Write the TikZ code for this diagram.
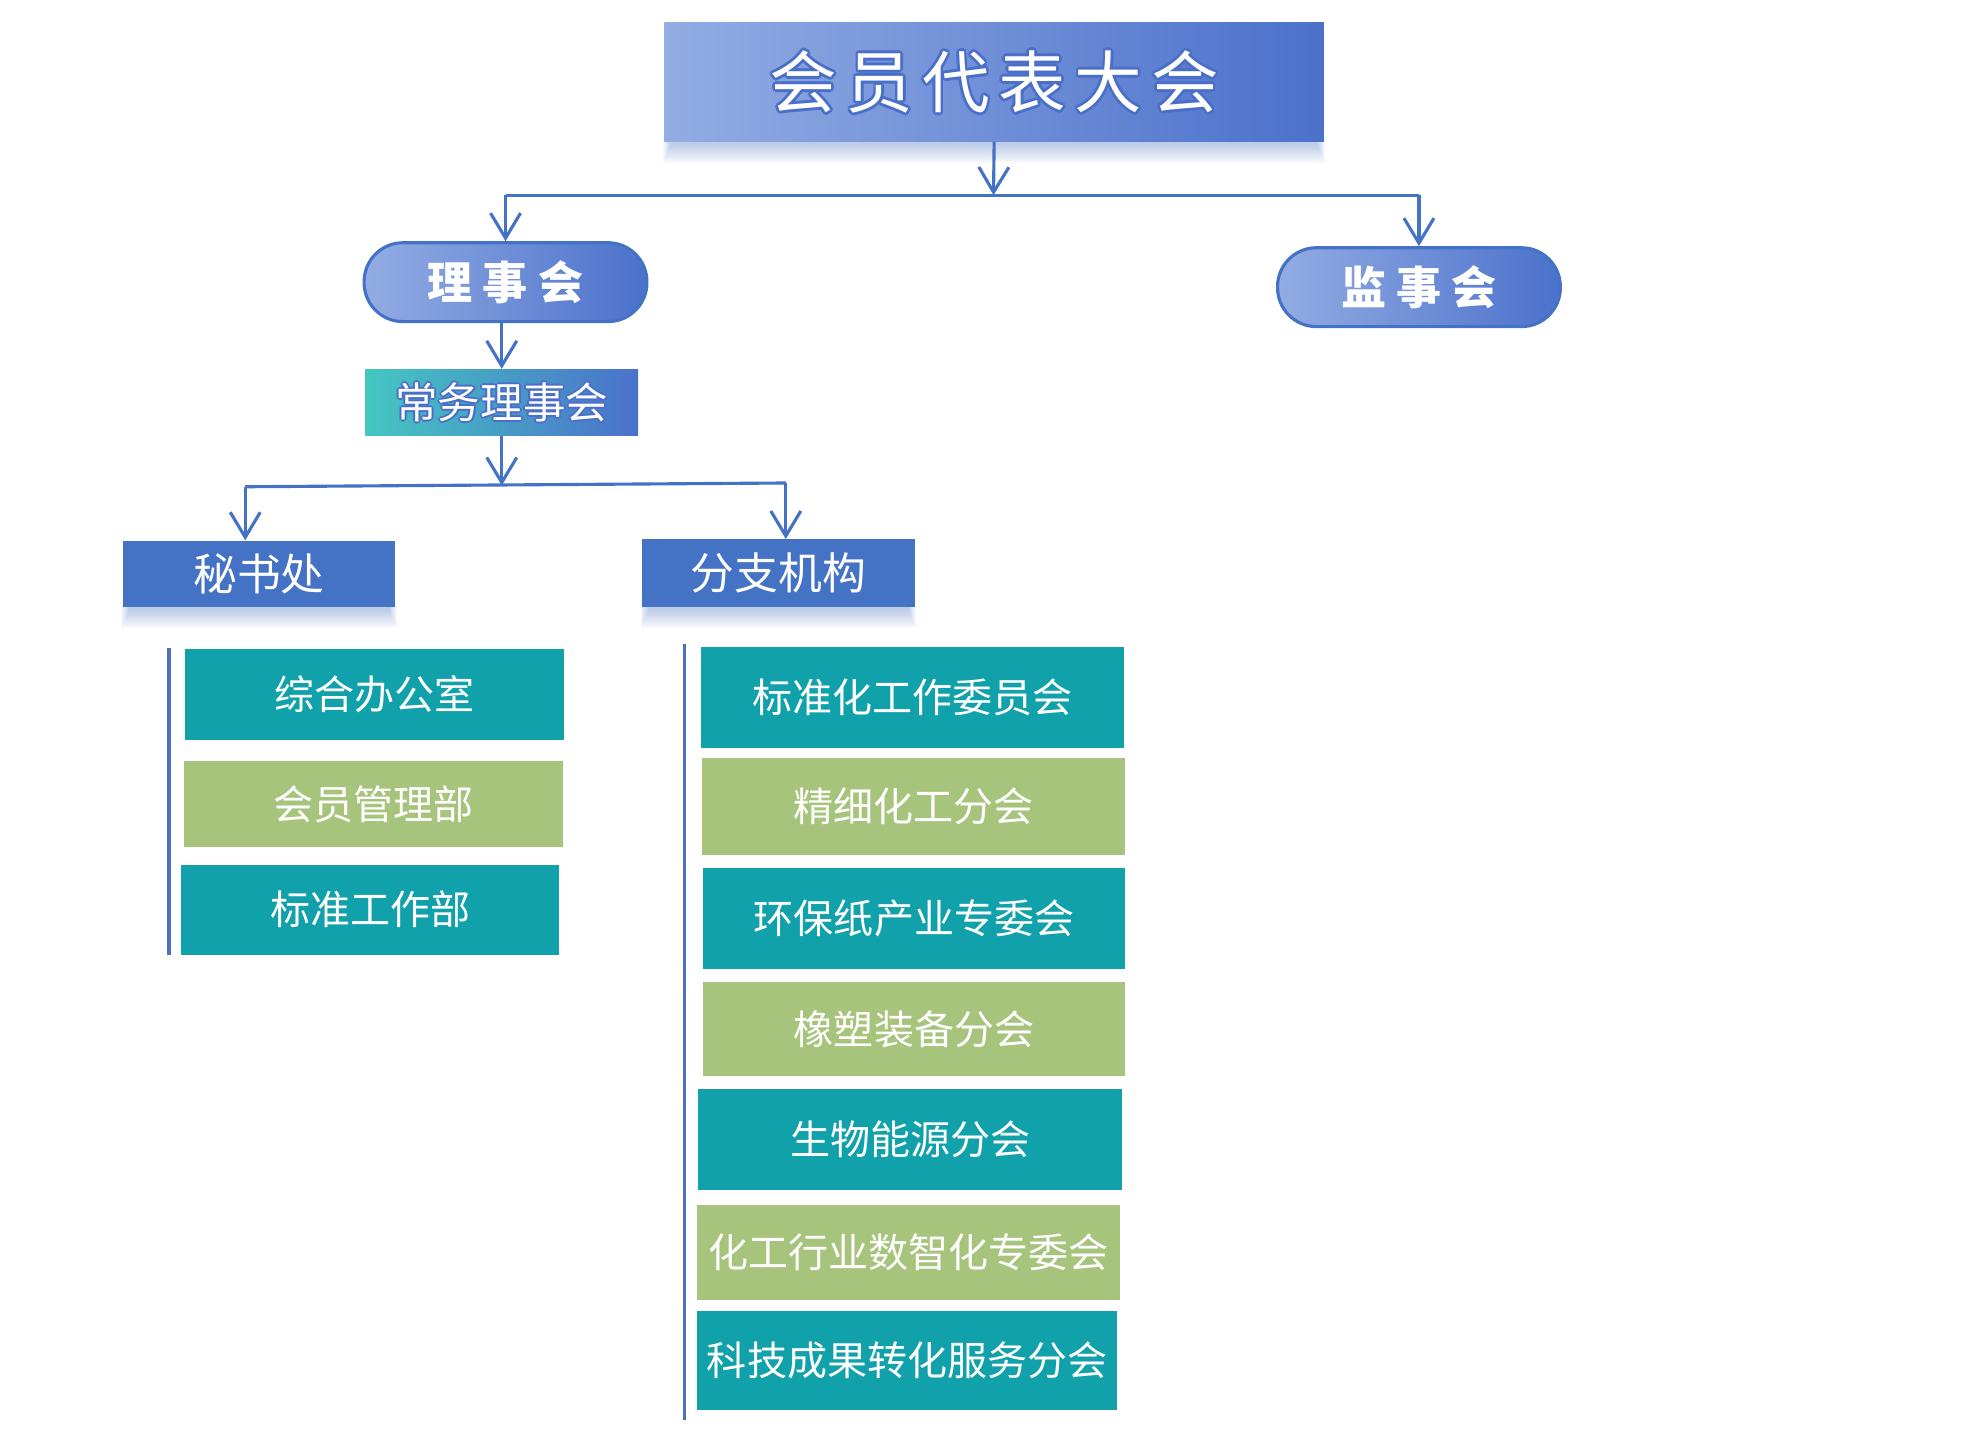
\documentclass[tikz,border=0pt]{standalone}
\usepackage{fontspec}
\newfontfamily\cjk{Noto Sans CJK SC}
\usetikzlibrary{arrows.meta}
\definecolor{lnblue}{HTML}{4472C4}
\definecolor{boxteal}{HTML}{10A1AA}
\definecolor{boxgreen}{HTML}{A6C47C}
\definecolor{gradlight}{HTML}{93ACE3}
\definecolor{graddark}{HTML}{4B71CB}
\definecolor{gradteal}{HTML}{44C7C1}
\definecolor{sideblue}{HTML}{4D6FC2}
\definecolor{outblue}{HTML}{4A6FC8}
% white text with a coloured outline
\newdimen\oltA \newdimen\oltB
\newcommand\olt[3]{\leavevmode\oltA=#3\relax\oltB=\dimexpr #3*7/10\relax
  \rlap{\kern-\oltA\color{#1}#2}\rlap{\kern\oltA\color{#1}#2}%
  \rlap{\raisebox{\oltA}{\color{#1}#2}}\rlap{\raisebox{-\oltA}{\color{#1}#2}}%
  \rlap{\kern-\oltB\raisebox{\oltB}{\color{#1}#2}}\rlap{\kern\oltB\raisebox{\oltB}{\color{#1}#2}}%
  \rlap{\kern-\oltB\raisebox{-\oltB}{\color{#1}#2}}\rlap{\kern\oltB\raisebox{-\oltB}{\color{#1}#2}}%
  {\color{white}#2}}
\newcommand\mkglow[4]{\foreach \i in {1,...,10}{\fill[lnblue,opacity=0.04] (#1+6-\i*0.7,#4-3) rectangle (#3-6+\i*0.7,#4+1+\i*1.6);}}
\begin{document}
\begin{tikzpicture}[x=1pt,y=-1pt,
  conn/.style={draw=lnblue, line width=2.5pt},
  arr/.style={conn, -{Straight Barb[length=20pt,width=24pt]}},
  side/.style={draw=sideblue, line width=3pt},
  unit/.style={rectangle, inner sep=0pt, text=white, font=\cjk\fontsize{32}{36}\selectfont},
  tealbox/.style={unit, fill=boxteal},
  greenbox/.style={unit, fill=boxgreen},
  bluebox/.style={unit, fill=lnblue, font=\cjk\fontsize{35}{40}\selectfont},
  titlebox/.style={rectangle, inner sep=0pt, left color=gradlight, right color=graddark,
     font=\cjk\fontsize{54}{60}\selectfont},
  pillbox/.style={rectangle, rounded corners=31pt, inner sep=0pt, draw=lnblue, line width=2.5pt,
     left color=gradlight, right color=graddark, text=white,
     font=\cjk\bfseries\fontsize{36}{40}\selectfont, minimum width=226pt, minimum height=63pt},
  cwbox/.style={rectangle, inner sep=0pt, left color=gradteal, right color=graddark,
     font=\cjk\fontsize{34}{40}\selectfont}
]
\useasboundingbox (0,0) rectangle (1568,1151);
\fill[white] (0,0) rectangle (1568,1151);

% shadows
\mkglow{531}{18}{1058}{113}
\mkglow{98}{432}{316}{485}
\mkglow{513}{431}{731}{485}

% top levels
\node[titlebox, minimum width=527pt, minimum height=95pt] (T) at (794.5,65.5)
  {\olt{outblue}{会\hspace{7pt}员\hspace{7pt}代\hspace{7pt}表\hspace{7pt}大\hspace{7pt}会}{2.2pt}};
\node[pillbox] (LSH) at (404,225.5) {理\hspace{8pt}事\hspace{8pt}会};
\node[pillbox] (JSH) at (1134,229.5) {监\hspace{8pt}事\hspace{8pt}会};
\node[cwbox, minimum width=218pt, minimum height=53pt] (CW) at (401,321.5)
  {\olt{outblue}{常务理事会}{1.6pt}};
\node[bluebox, minimum width=218pt, minimum height=53pt] (MSC) at (207,458.5) {秘书处};
\node[bluebox, minimum width=218pt, minimum height=54pt] (FZ) at (622,458) {分支机构};

% connectors
\coordinate (j1) at (794,156);
\coordinate (j1L) at (404,156);
\coordinate (j1R) at (1134,156);
\draw[arr] (T.south) -- (j1);
\draw[conn] (j1L) -- (j1R);
\draw[arr] (j1L) -- (LSH.north);
\draw[arr] (j1R) -- (JSH.north);
\draw[arr] (CW.north |- LSH.south) -- (CW.north);
\coordinate (j2) at (401,388);
\coordinate (j2L) at (196,389);
\coordinate (j2R) at (628,386);
\draw[arr] (CW.south) -- (j2);
\draw[conn] (j2L) -- (j2R);
\draw[arr] (j2L) -- (j2L |- MSC.north);
\draw[arr] (j2R) -- (j2R |- FZ.north);

% secretariat units
\coordinate (sL1) at (135,518);
\coordinate (sL2) at (135,763);
\draw[side] (sL1) -- (sL2);
\node[tealbox, minimum width=303pt, minimum height=72pt] (m1) at (299.5,555) {综合办公室};
\node[greenbox, minimum width=303pt, minimum height=69pt] (m2) at (298.5,642.5) {会员管理部};
\node[tealbox, minimum width=302pt, minimum height=72pt] (m3) at (296,727) {标准工作部};

% branch units
\coordinate (sR1) at (547,515);
\coordinate (sR2) at (547,1135);
\draw[side] (sR1) -- (sR2);
\node[tealbox, minimum width=338pt, minimum height=81pt] (r1) at (729,557.5) {标准化工作委员会};
\node[greenbox, minimum width=338pt, minimum height=77pt] (r2) at (730,644.5) {精细化工分会};
\node[tealbox, minimum width=337pt, minimum height=80pt] (r3) at (730.5,734) {环保纸产业专委会};
\node[greenbox, minimum width=337pt, minimum height=75pt] (r4) at (730.5,822.5) {橡塑装备分会};
\node[tealbox, minimum width=339pt, minimum height=81pt] (r5) at (727.5,910.5) {生物能源分会};
\node[greenbox, minimum width=338pt, minimum height=76pt] (r6) at (726,1001) {化工行业数智化专委会};
\node[tealbox, minimum width=336pt, minimum height=79pt] (r7) at (725,1087.5) {科技成果转化服务分会};
\end{tikzpicture}
\end{document}
